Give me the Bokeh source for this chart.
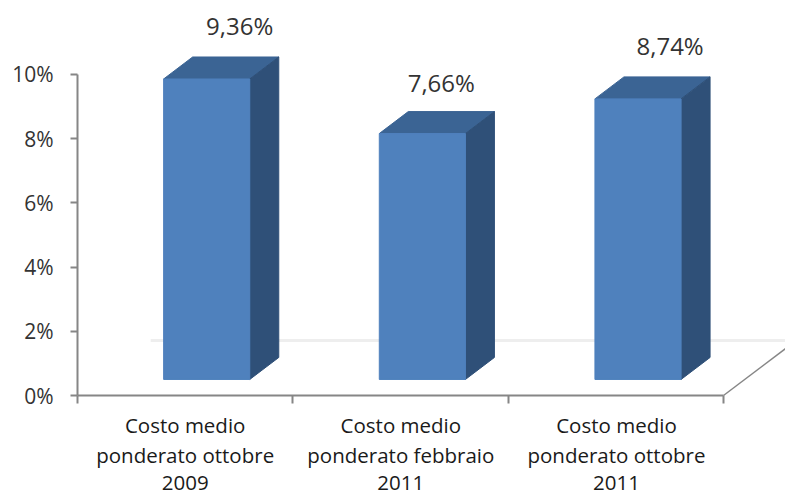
from bokeh.plotting import figure
from bokeh.embed import file_html
from bokeh.resources import INLINE
from bokeh.core.properties import value
from bokeh.models import FixedTicker, Range1d

categories = ["Costo medio\nponderato ottobre\n2009",
              "Costo medio\nponderato febbraio\n2011",
              "Costo medio\nponderato ottobre\n2011"]
values = [9.36, 7.66, 8.74]
value_labels = ["9,36%", "7,66%", "8,74%"]
y_ticks = [0, 2, 4, 6, 8, 10]
y_tick_labels = ["0%", "2%", "4%", "6%", "8%", "10%"]

# layout (data units; x: 1 = one category, y: percent)
base = 0.5
bar_w = 0.4
depth_x = 0.1347
depth_y = 0.685
centres = [0.6 + i * 1.0015 for i in range(3)]
label_dx = [0.153, 0.088, 0.149]
label_dy = [0.98, 0.91, 0.98]
line_y = [-0.92, -1.86, -2.74]

FONT = "Open Sans"
FRONT, TOP, SIDE = "#4f81bd", "#3b6494", "#2f5078"
AXIS = "#868686"

p = figure(width=785, height=495, output_backend="svg", toolbar_location=None,
           x_range=Range1d(-0.3576, 3.288), y_range=Range1d(-3.115, 12.305),
           min_border=0, min_border_left=0, min_border_right=0,
           min_border_top=0, min_border_bottom=0)
p.outline_line_color = None
p.grid.visible = False
p.background_fill_color = "white"
p.border_fill_color = "white"

# floor
p.line([0.34, 3.3], [1.71, 1.71], line_color="#eeeeee", line_width=3)
p.line([3.0, 3.288], [0.0, 1.46], line_color=AXIS, line_width=1.5)

# bars
for c, v in zip(centres, values):
    l, r = c - bar_w / 2, c + bar_w / 2
    t = base + v
    p.patch([l, r, r + depth_x, l + depth_x], [t, t, t + depth_y, t + depth_y],
            fill_color=TOP, line_color=TOP, line_width=1)
    p.patch([r, r + depth_x, r + depth_x, r], [base, base + depth_y, t + depth_y, t],
            fill_color=SIDE, line_color=SIDE, line_width=1)
    p.quad(left=l, right=r, bottom=base, top=t, fill_color=FRONT, line_color=FRONT, line_width=1)

# value labels
p.text([c + d for c, d in zip(centres, label_dx)],
       [base + v + depth_y + d for v, d in zip(values, label_dy)],
       text=value_labels, text_font=value(FONT), text_font_size="24px",
       text_color="#333333", text_align="center", text_baseline="middle")

# category labels
for c, cat in zip(centres, categories):
    lines = cat.split("\n")
    p.text([c - 0.1] * len(lines), line_y[:len(lines)], text=lines,
           text_font=value(FONT), text_font_size="20.5px", text_color="#1a1a1a",
           text_align="center", text_baseline="middle")

# axes
xa = p.xaxis[0]
xa.fixed_location = 0
xa.bounds = (0, 3)
xa.ticker = FixedTicker(ticks=[0, 1, 2, 3])
xa.major_label_text_font_size = "0px"
xa.major_label_text_color = None
xa.axis_line_color = AXIS
xa.axis_line_width = 2
xa.major_tick_line_color = AXIS
xa.major_tick_line_width = 2
xa.major_tick_in = 0
xa.major_tick_out = 8
xa.minor_tick_line_color = None

ya = p.yaxis[0]
ya.fixed_location = 0
ya.bounds = (0, 10)
ya.ticker = FixedTicker(ticks=y_ticks)
ya.major_label_overrides = dict(zip(y_ticks, y_tick_labels))
ya.major_label_text_font = FONT
ya.major_label_text_font_size = "21px"
ya.major_label_text_font_style = "normal"
ya.major_label_text_color = "#333333"
ya.major_label_standoff = 17
ya.axis_line_color = AXIS
ya.axis_line_width = 2
ya.major_tick_line_color = AXIS
ya.major_tick_line_width = 2
ya.major_tick_in = 0
ya.major_tick_out = 7
ya.minor_tick_line_color = None

open("out.html", "w").write(file_html(p, INLINE))
